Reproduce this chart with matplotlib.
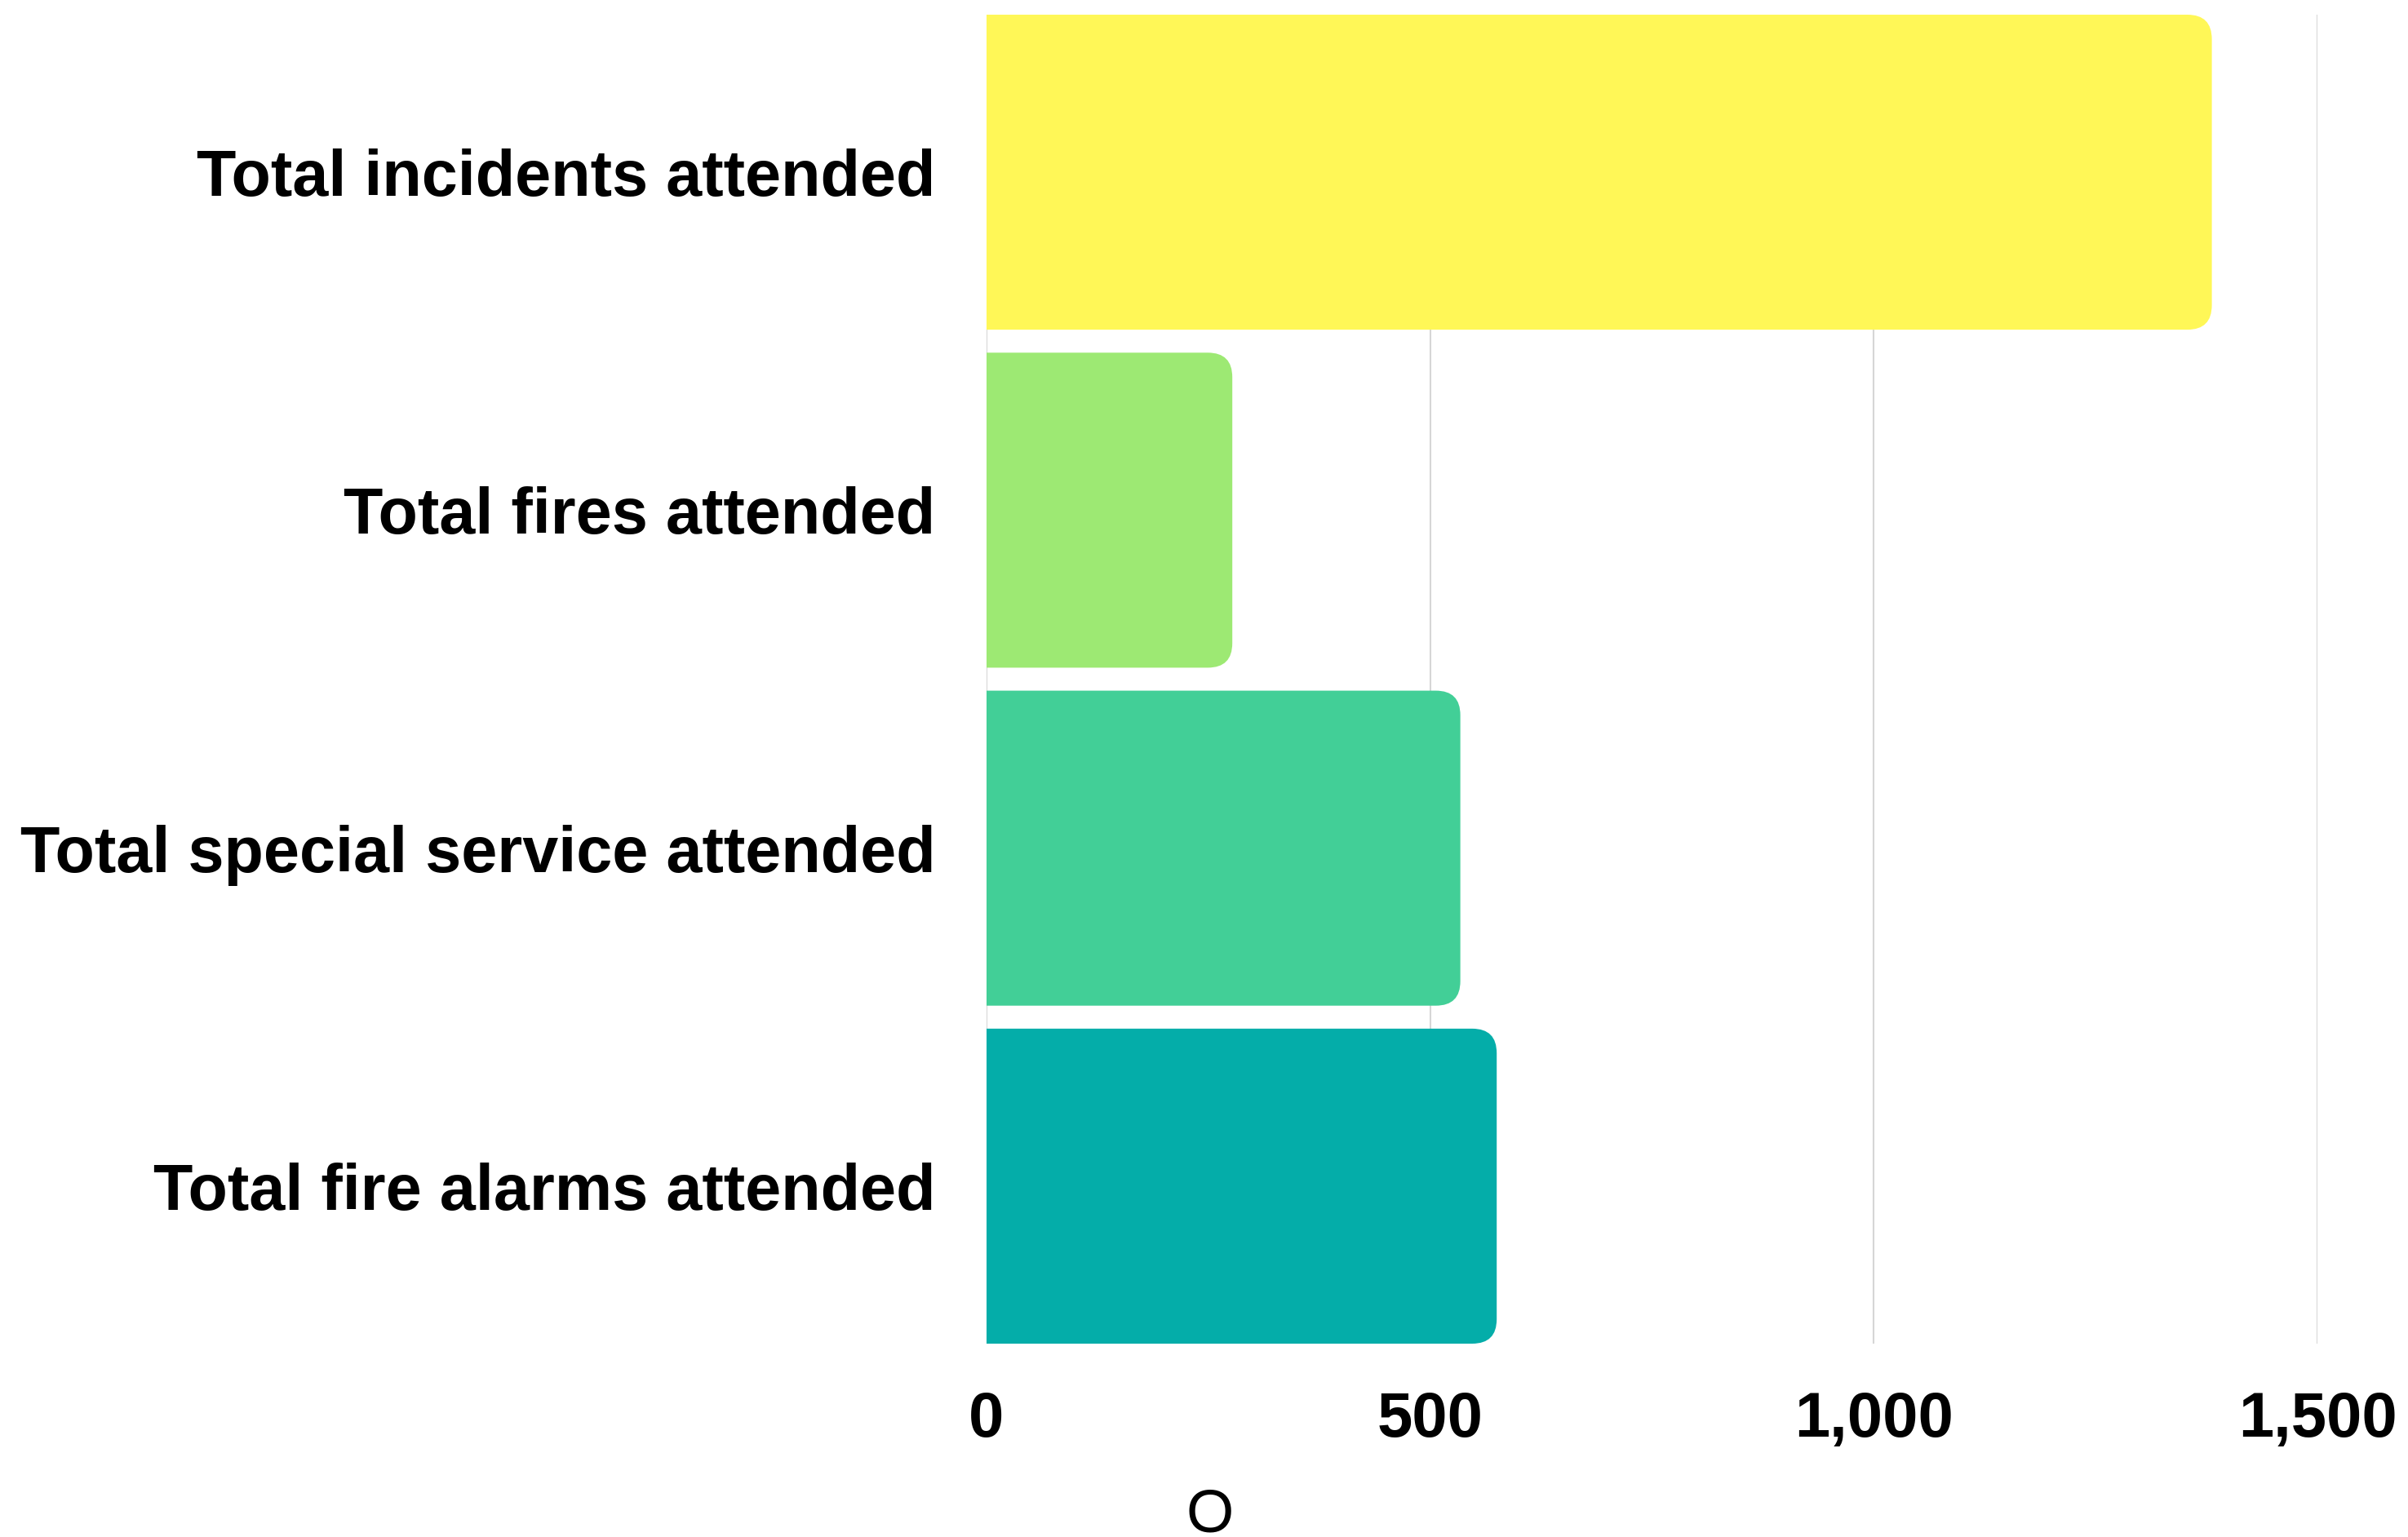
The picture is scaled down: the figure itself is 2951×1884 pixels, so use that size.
import matplotlib
matplotlib.use("Agg")
import matplotlib.pyplot as plt
from matplotlib.patches import FancyBboxPatch

categories = ["Total incidents attended", "Total fires attended",
              "Total special service attended", "Total fire alarms attended"]
values = [1381, 277, 534, 575]
colors = ["#fff757", "#9de973", "#42cf97", "#04ada9"]
xticks = [0, 500, 1000, 1500]
xtick_labels = ["0", "500", "1,000", "1,500"]
xlabel = "O"

plt.rcParams['font.family'] = ['Liberation Sans', 'DejaVu Sans']

W, H, DPI = 2951, 1884, 100
fig = plt.figure(figsize=(W / DPI, H / DPI), dpi=DPI)
ax = fig.add_axes([1209 / W, 1 - 1647 / H, (2840 - 1209) / W, (1647 - 18) / H])

h = 0.932
ypos = list(range(len(categories)))
bars = ax.barh(ypos, values, height=h, color=colors, zorder=2)
ax.set_xlim(0, 1500)
ax.set_ylim(len(categories) - 1 + h / 2, -h / 2)

ax.set_xticks(xticks)
ax.set_xticklabels(xtick_labels, fontsize=56, fontweight='bold')
ax.set_yticks(ypos)
ax.set_yticklabels(categories, fontsize=57, fontweight='bold')
ax.tick_params(axis='both', length=0)
ax.tick_params(axis='x', pad=41)
ax.tick_params(axis='y', pad=45)
ax.grid(axis='x', color='#d6d6d6', linewidth=1.5, zorder=0)
ax.set_axisbelow(True)
for s in ax.spines.values():
    s.set_visible(False)

ax.set_xlabel(xlabel, fontsize=54, va='baseline')
ax.xaxis.set_label_coords(0.168, -0.1415)

# rounded right ends
r = 30
fig.canvas.draw()
for b in bars:
    bb = b.get_window_extent()
    b.set_visible(False)
    p = FancyBboxPatch((bb.x0 - 2 * r, bb.y0), bb.width + 2 * r, bb.height,
                       boxstyle=f"round,pad=0,rounding_size={r}",
                       facecolor=b.get_facecolor(), edgecolor='none',
                       transform=None, zorder=2)
    p.set_clip_box(ax.bbox)
    p.set_clip_on(True)
    fig.add_artist(p)

fig.savefig("out.png", dpi=DPI)
